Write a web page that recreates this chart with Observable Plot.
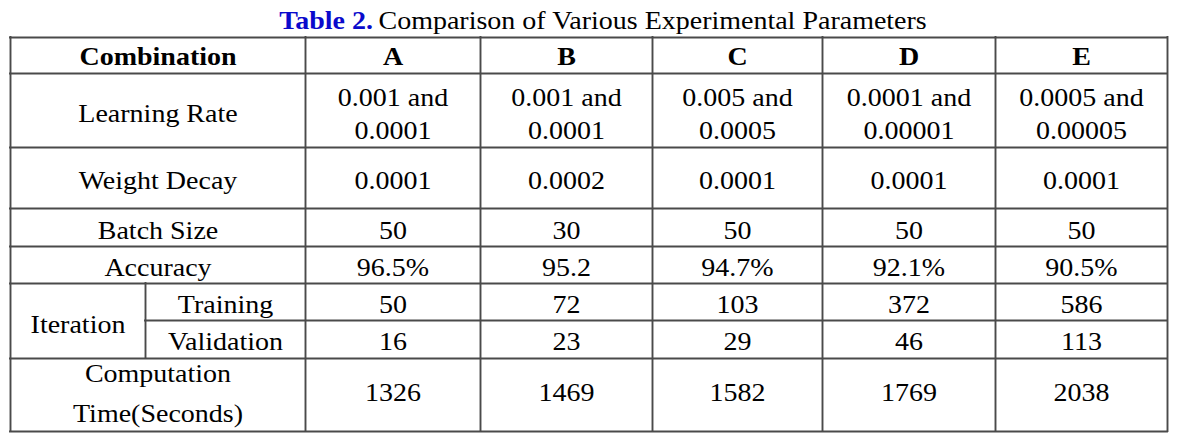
<!DOCTYPE html>
<html><head><meta charset="utf-8">
<script src="https://cdn.jsdelivr.net/npm/d3@7"></script>
<script src="https://cdn.jsdelivr.net/npm/@observablehq/plot@0.6"></script>
<style>html,body{margin:0;padding:0;background:#fff} #chart svg{display:block}</style>
</head><body><div id="chart"></div>
<script>
// ---- data ----
const titleLabel = "Table 2.";
const titleText = "Comparison of Various Experimental Parameters";
const headerLabel = "Combination";
const combinations = ["A", "B", "C", "D", "E"];
const learningRate = ["0.001 and\n0.0001", "0.001 and\n0.0001", "0.005 and\n0.0005", "0.0001 and\n0.00001", "0.0005 and\n0.00005"];
const weightDecay = ["0.0001", "0.0002", "0.0001", "0.0001", "0.0001"];
const batchSize = ["50", "30", "50", "50", "50"];
const accuracy = ["96.5%", "95.2", "94.7%", "92.1%", "90.5%"];
const trainingIterations = ["50", "72", "103", "372", "586"];
const validationIterations = ["16", "23", "29", "46", "113"];
const computationTime = ["1326", "1469", "1582", "1769", "2038"];
const rowLabels = ["Learning Rate", "Weight Decay", "Batch Size", "Accuracy", "Computation\nTime(Seconds)"];
const groupLabel = "Iteration";
const subLabels = ["Training", "Validation"];

// ---- layout (table geometry, in scale units) ----
const colW = [135, 160, 175, 172, 170, 173, 172];
const rowH = [36, 74, 61, 38, 37, 37, 38, 73];
const rowDy = [1, 3.5, 3, 3, 3, 2.5, 2.5, -2.5];
const xEdge = [0, ...Array.from(d3.cumsum(colW))];
const yEdge = [0, ...Array.from(d3.cumsum(rowH))];
const cx = (a, b) => (xEdge[a] + xEdge[b + 1]) / 2;
const cy = (r) => (yEdge[r] + yEdge[r + 1]) / 2 + rowDy[r];
const cy2 = (a, b) => (yEdge[a] + yEdge[b + 1]) / 2 + rowDy[a];

// ---- cells ----
const bold = [{x: cx(0, 1), y: cy(0), text: headerLabel}];
combinations.forEach((c, j) => bold.push({x: cx(j + 2, j + 2), y: cy(0), text: c}));

const plain = [];
const lrCells = [];
const dataRows = [[1, learningRate], [2, weightDecay], [3, batchSize], [4, accuracy], [5, trainingIterations], [6, validationIterations], [7, computationTime]];
dataRows.forEach(([r, vals]) => vals.forEach((v, j) => {
  if (r === 1) lrCells.push({x: cx(j + 2, j + 2), y: cy(r) - 2.5, text: v});
  else plain.push({x: cx(j + 2, j + 2), y: cy(r), text: v});
}));
plain.push({x: cx(0, 1), y: cy(1), text: rowLabels[0]});
plain.push({x: cx(0, 1), y: cy(2), text: rowLabels[1]});
plain.push({x: cx(0, 1), y: cy(3), text: rowLabels[2]});
plain.push({x: cx(0, 1), y: cy(4), text: rowLabels[3]});
plain.push({x: cx(0, 0), y: cy2(5, 6) + 1.5, text: groupLabel});
plain.push({x: cx(1, 1), y: cy(5), text: subLabels[0]});
plain.push({x: cx(1, 1), y: cy(6), text: subLabels[1]});
const compLabel = [{x: cx(0, 1), y: cy(7) - 3.5, text: rowLabels[4]}];

// ---- grid lines ----
const W = xEdge[xEdge.length - 1], H = yEdge[yEdge.length - 1];
const hLines = yEdge.map((y, i) => ({y, x1: i === 6 ? xEdge[1] : 0, x2: W}));
const vLines = xEdge.map((x, i) => i === 1 ? {x, y1: yEdge[5], y2: yEdge[7]} : {x, y1: 0, y2: H});

const font = "'Liberation Serif','Times New Roman',serif";
const svg = Plot.plot({
  width: 1187,
  height: 433,
  x: {domain: [0, W], range: [10, 10 + W], axis: null},
  y: {domain: [0, H], range: [37, 37 + H], axis: null},
  style: {fontFamily: font, background: "#fff"},
  marks: [
    Plot.ruleY(hLines, {y: "y", x1: "x1", x2: "x2", stroke: "#4a4a4a", strokeWidth: 1.9, strokeLinecap: "square"}),
    Plot.ruleX(vLines, {x: "x", y1: "y1", y2: "y2", stroke: "#4a4a4a", strokeWidth: 1.9, strokeLinecap: "square"}),
    Plot.text(plain, {x: "x", y: "y", text: "text", fontSize: 25, fill: "#000"}),
    Plot.text(bold, {x: "x", y: "y", text: "text", fontSize: 25, fontWeight: "bold", fill: "#000"}),
    Plot.text(lrCells, {x: "x", y: "y", text: "text", fontSize: 25, lineHeight: 1.32, fill: "#000"}),
    Plot.text(compLabel, {x: "x", y: "y", text: "text", fontSize: 25, lineHeight: 1.6, fill: "#000"}),
    Plot.text([titleLabel], {x: () => 362.5, y: () => -16.5, text: d => d, textAnchor: "end", fontSize: 25, fontWeight: "bold", fill: "#0a0acc"}),
    Plot.text([titleText], {x: () => 368, y: () => -16.5, text: d => d, textAnchor: "start", fontSize: 25, fill: "#000"})
  ]
});
d3.select(svg).selectAll("text").attr("transform", function () {
  return (this.getAttribute("transform") || "") + " scale(1.12,1)";
});
document.getElementById("chart").appendChild(svg);
</script>
</body></html>
